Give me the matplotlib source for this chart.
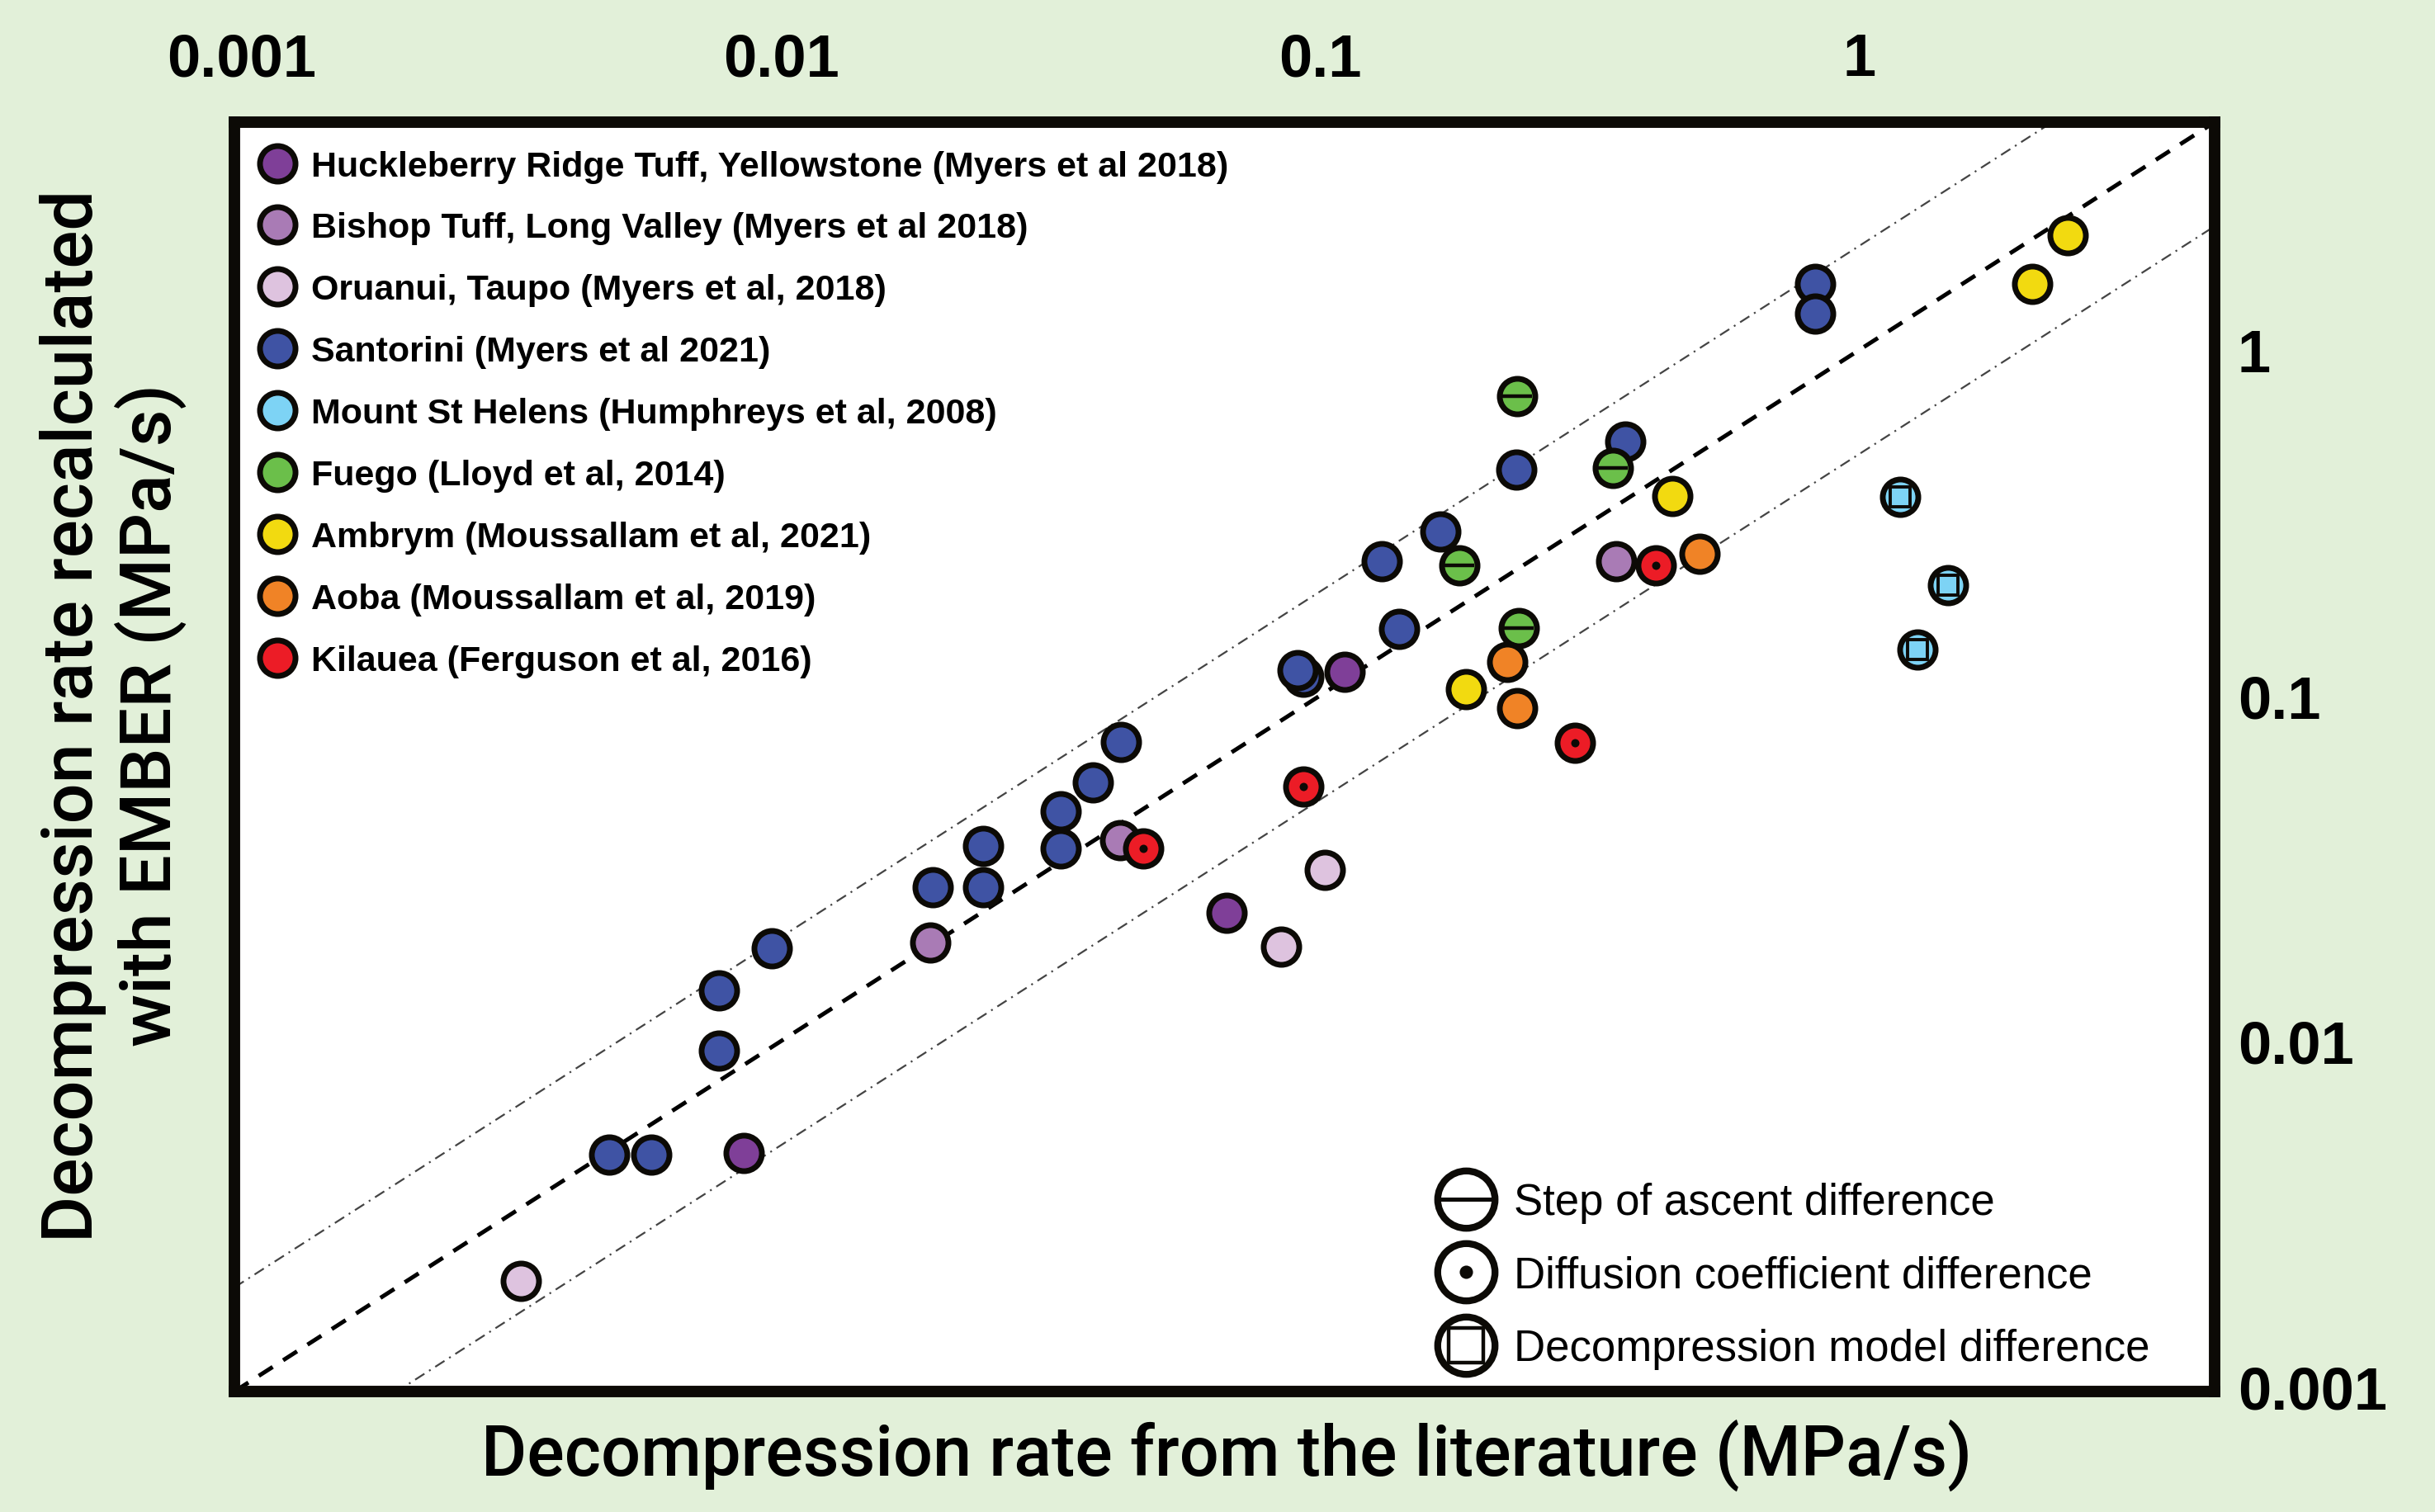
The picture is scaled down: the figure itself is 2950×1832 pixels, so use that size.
import matplotlib
matplotlib.use("Agg")
import matplotlib.pyplot as plt
from matplotlib.lines import Line2D
from matplotlib.legend_handler import HandlerTuple

# literature rate (x) vs EMBER rate (y), MPa/s
huck_x = [0.00853, 0.0671, 0.111]
huck_y = [0.00475, 0.0235, 0.117]

bishop_x = [0.0189, 0.0425, 0.354]
bishop_y = [0.0193, 0.0381, 0.245]

oruanui_x = [0.00329, 0.0845, 0.102]
oruanui_y = [0.00202, 0.0188, 0.0313]

santorini_x = [0.00481, 0.00575, 0.00767, 0.00767, 0.00962, 0.0191, 0.0237, 0.0237,
               0.0330, 0.0330, 0.0378, 0.0427, 0.0931, 0.0906, 0.140, 0.130, 0.167,
               0.231, 0.368, 0.826, 0.826]
santorini_y = [0.00470, 0.00470, 0.00941, 0.0140, 0.0186, 0.0279, 0.0279, 0.0367,
               0.0361, 0.0462, 0.0561, 0.0735, 0.113, 0.118, 0.156, 0.245, 0.298,
               0.450, 0.542, 1.55, 1.27]

msh_x = [1.19, 1.46, 1.28]
msh_y = [0.375, 0.208, 0.136]

fuego_x = [0.232, 0.349, 0.181, 0.233]
fuego_y = [0.735, 0.455, 0.238, 0.157]

ambrym_x = [2.43, 2.09, 0.450, 0.186]
ambrym_y = [2.14, 1.55, 0.378, 0.104]

aoba_x = [0.505, 0.222, 0.232]
aoba_y = [0.257, 0.125, 0.092]

kilauea_x = [0.418, 0.296, 0.0931, 0.0469]
kilauea_y = [0.238, 0.0731, 0.0546, 0.0361]

series = [
    ("Huckleberry Ridge Tuff, Yellowstone (Myers et al 2018)", huck_x, huck_y, "#7F3F98"),
    ("Bishop Tuff, Long Valley (Myers et al 2018)", bishop_x, bishop_y, "#A97BB5"),
    ("Oruanui, Taupo (Myers et al, 2018)", oruanui_x, oruanui_y, "#DEC3DF"),
    ("Santorini (Myers et al 2021)", santorini_x, santorini_y, "#3F53A4"),
    ("Mount St Helens (Humphreys et al, 2008)", msh_x, msh_y, "#7DD3F5"),
    ("Fuego (Lloyd et al, 2014)", fuego_x, fuego_y, "#6BBF4A"),
    ("Ambrym (Moussallam et al, 2021)", ambrym_x, ambrym_y, "#F2DA10"),
    ("Aoba (Moussallam et al, 2019)", aoba_x, aoba_y, "#F08326"),
    ("Kilauea (Ferguson et al, 2016)", kilauea_x, kilauea_y, "#EC1C26"),
]

lim = (0.00097, 4.55)
edge = "#0C0A06"
bg = "#E2F0D9"
label_font = ["Roboto", "DejaVu Sans"]
narrow_font = ["Liberation Sans Narrow", "Liberation Sans", "DejaVu Sans"]

fig = plt.figure(figsize=(14.75, 9.165), dpi=200)
fig.patch.set_facecolor(bg)
ax = fig.add_axes([0.0963, 0.0797, 0.9095 - 0.0963, 0.9187 - 0.0797])
ax.set_facecolor("white")
ax.set_xscale("log")
ax.set_yscale("log")
ax.set_xlim(lim)
ax.set_ylim(lim)

# 1:1 line and factor-of-two envelopes
ax.plot(lim, lim, color="black", lw=1.8, ls=(0, (4, 3)), zorder=1)
ax.plot(lim, [2 * v for v in lim], color="#444444", lw=0.8, ls=(0, (6, 3, 1, 3)), zorder=1)
ax.plot(lim, [v / 2 for v in lim], color="#444444", lw=0.8, ls=(0, (6, 3, 1, 3)), zorder=1)

ms, mew = 15.5, 2.5
handles = []
for i, (name, xs, ys, col) in enumerate(series):
    z = 3 + i
    ax.plot(xs, ys, "o", ms=ms, mfc=col, mec=edge, mew=mew, ls="none", zorder=z)
    handles.append(Line2D([], [], marker="o", ms=ms, mfc=col, mec=edge, mew=mew, ls="none", label=name))
    if name.startswith("Mount"):
        ax.plot(xs, ys, "s", ms=8.5, mfc=col, mec=edge, mew=1.4, ls="none", zorder=z + 0.5)
    if name.startswith("Fuego"):
        ax.plot(xs, ys, "_", ms=13, mec=edge, mew=1.6, ls="none", zorder=z + 0.5)
    if name.startswith("Kilauea"):
        ax.plot(xs, ys, "o", ms=3.6, mfc=edge, mec=edge, mew=0, ls="none", zorder=z + 0.5)

# frame and ticks
for sp in ax.spines.values():
    sp.set_linewidth(5)
    sp.set_color(edge)
ticks = [0.001, 0.01, 0.1, 1]
tick_labels = ["0.001", "0.01", "0.1", "1"]
ax.xaxis.tick_top()
ax.yaxis.tick_right()
ax.set_xticks(ticks)
ax.set_xticklabels(tick_labels)
ax.set_yticks(ticks)
ax.set_yticklabels(tick_labels)
ax.minorticks_off()
ax.tick_params(axis="x", length=0, pad=15, labelsize=26)
ax.tick_params(axis="y", length=0, pad=10, labelsize=26)
for t in ax.get_xticklabels() + ax.get_yticklabels():
    t.set_family(narrow_font)
    t.set_fontweight("bold")

fig.text(0.5037, 0.038, "Decompression rate from the literature (MPa/s)",
         ha="center", va="center", fontsize=30.5, family=label_font, fontweight="medium")
fig.text(0.0465, 0.527, "Decompression rate recalculated\nwith EMBER (MPa/s)",
         ha="center", va="center", rotation=90, fontsize=31, family=label_font,
         fontweight="medium", linespacing=1.15)

leg1 = ax.legend(handles=handles, loc="upper left", bbox_to_anchor=(-0.003, 1.0),
                 frameon=False, prop={"family": narrow_font, "weight": "bold", "size": 15.5},
                 labelspacing=0.81, handletextpad=0.35, handlelength=1.2, borderpad=0.78,
                 borderaxespad=0.0)
ax.add_artist(leg1)

big, bew = 25, 3
c1 = Line2D([], [], marker="o", ms=big, mfc="white", mec=edge, mew=bew, ls="none")
c2 = Line2D([], [], marker="o", ms=big, mfc="white", mec=edge, mew=bew, ls="none")
c3 = Line2D([], [], marker="o", ms=big, mfc="white", mec=edge, mew=bew, ls="none")
o1 = Line2D([], [], marker="_", ms=big, mec=edge, mew=1.8, ls="none")
o2 = Line2D([], [], marker="o", ms=5.8, mfc=edge, mec=edge, mew=0, ls="none")
o3 = Line2D([], [], marker="s", ms=15, mfc="white", mec=edge, mew=1.6, ls="none")
leg2 = ax.legend([(c1, o1), (c2, o2), (c3, o3)],
                 ["Step of ascent difference", "Diffusion coefficient difference",
                  "Decompression model difference"],
                 handler_map={tuple: HandlerTuple(ndivide=1, pad=0)},
                 loc="lower left", bbox_to_anchor=(0.600, 0.007), frameon=False,
                 prop={"family": narrow_font, "size": 19},
                 labelspacing=0.73, handletextpad=0.4, handlelength=1.4, borderpad=0.3,
                 borderaxespad=0.0)

fig.savefig("out.png", dpi=200, facecolor=bg)
